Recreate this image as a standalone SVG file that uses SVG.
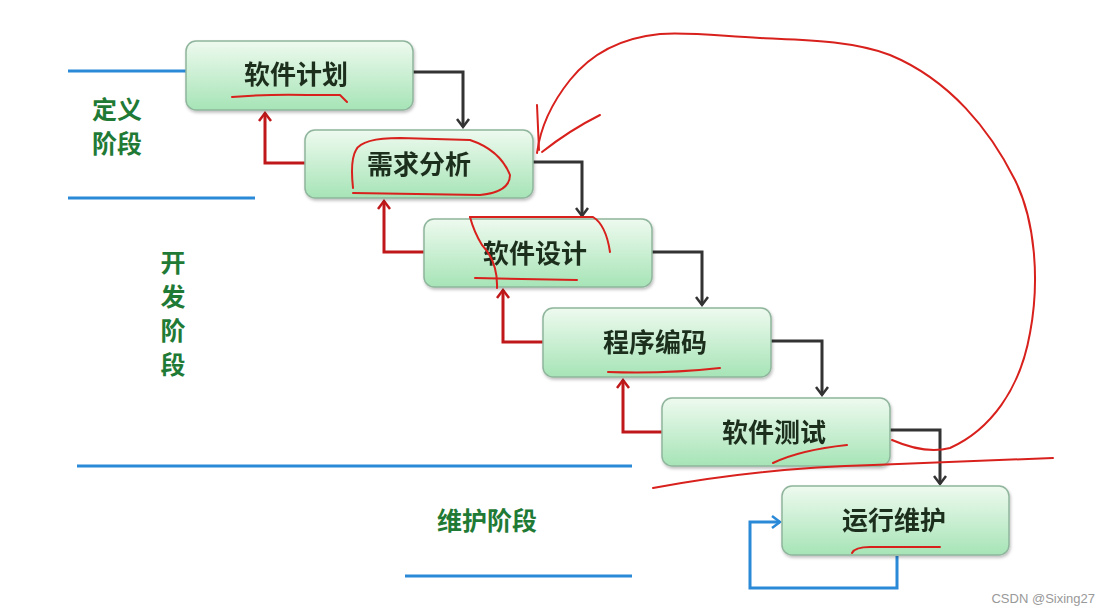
<svg xmlns="http://www.w3.org/2000/svg" width="1109" height="615" viewBox="0 0 1109 615">
<style>
.box{fill:url(#g);stroke:#8fb59c;stroke-width:1.5}
.lbl{font-family:"Noto Sans CJK SC","Noto Sans",sans-serif;font-weight:bold;font-size:26px;fill:#1e2e1e;text-anchor:middle}
.ph{font-family:"Noto Sans CJK SC","Noto Sans",sans-serif;font-weight:bold;font-size:25px;fill:#1f7a35}
.blue{fill:none;stroke:#2a8ad8;stroke-width:3}
.ink{fill:none;stroke:#d8201c;stroke-width:2;stroke-linecap:round;stroke-linejoin:round}
.bk{fill:none;stroke:#333;stroke-width:3}
.bh{fill:none;stroke:#333;stroke-width:2.5}
.rd{fill:none;stroke:#c0181a;stroke-width:3}
.rh{fill:none;stroke:#c0181a;stroke-width:2.5}
</style>
<defs>
<linearGradient id="g" x1="0" y1="0" x2="0" y2="1">
<stop offset="0" stop-color="#eefaef"/>
<stop offset="1" stop-color="#a6e4b6"/>
</linearGradient>
<filter id="sh" x="-10%" y="-10%" width="120%" height="130%">
<feDropShadow dx="1" dy="2" stdDeviation="1.5" flood-color="#000" flood-opacity="0.25"/>
</filter>
</defs>
<rect width="1109" height="615" fill="#fff"/>

<g id="phase-lines">
<line class="blue" x1="68" y1="71" x2="186" y2="71"/>
<line class="blue" x1="68" y1="198" x2="255" y2="198"/>
<line class="blue" x1="77" y1="466" x2="632" y2="466"/>
<line class="blue" x1="405" y1="576" x2="632" y2="576"/>
</g>

<g id="phase-labels">
<text class="ph"><tspan x="92" y="119">定义</tspan><tspan x="92" y="153">阶段</tspan></text>
<text class="ph" text-anchor="middle"><tspan x="173" y="272">开</tspan><tspan x="173" y="306">发</tspan><tspan x="173" y="340">阶</tspan><tspan x="173" y="374">段</tspan></text>
<text class="ph" x="437" y="530">维护阶段</text>
</g>

<g id="connectors">
<path class="bk" d="M413,72 H463 V127"/>
<path class="bh" d="M457,119 L463,127 L469,119"/>
<path class="bk" d="M533,162 H582 V216"/>
<path class="bh" d="M576,208 L582,216 L588,208"/>
<path class="bk" d="M652,252 H702 V305"/>
<path class="bh" d="M696,297 L702,305 L708,297"/>
<path class="bk" d="M771,341 H822 V395"/>
<path class="bh" d="M816,387 L822,395 L828,387"/>
<path class="bk" d="M890,430 H940 V484"/>
<path class="bh" d="M934,476 L940,484 L946,476"/>

<path class="rd" d="M305,163 H265 V113"/>
<path class="rh" d="M259,121 L265,113 L271,121"/>
<path class="rd" d="M424,252 H384 V201"/>
<path class="rh" d="M378,209 L384,201 L390,209"/>
<path class="rd" d="M543,342 H503 V290"/>
<path class="rh" d="M497,298 L503,290 L509,298"/>
<path class="rd" d="M662,432 H623 V380"/>
<path class="rh" d="M617,388 L623,380 L629,388"/>

<path d="M897,556 V588 H750 V522 H780" fill="none" stroke="#2a8ad8" stroke-width="3"/>
<path d="M772,516 L780,522 L772,528" fill="none" stroke="#2a8ad8" stroke-width="2.5"/>
</g>

<g id="n1" filter="url(#sh)">
<rect class="box" x="186" y="41" width="227" height="69" rx="10"/>
<text class="lbl" x="296" y="84">软件计划</text>
</g>
<g id="n2" filter="url(#sh)">
<rect class="box" x="305" y="130" width="228" height="68" rx="10"/>
<text class="lbl" x="419" y="174">需求分析</text>
</g>
<g id="n3" filter="url(#sh)">
<rect class="box" x="424" y="219" width="228" height="68" rx="10"/>
<text class="lbl" x="535" y="263">软件设计</text>
</g>
<g id="n4" filter="url(#sh)">
<rect class="box" x="543" y="308" width="228" height="69" rx="10"/>
<text class="lbl" x="655" y="352">程序编码</text>
</g>
<g id="n5" filter="url(#sh)">
<rect class="box" x="662" y="398" width="228" height="68" rx="10"/>
<text class="lbl" x="774" y="442">软件测试</text>
</g>
<g id="n6" filter="url(#sh)">
<rect class="box" x="782" y="486" width="227" height="69" rx="10"/>
<text class="lbl" x="894" y="530">运行维护</text>
</g>

<g id="annotations">
<path class="ink" d="M232,97 Q270,94 307,95 L340,95 L347,102"/>
<path class="ink" d="M353,188 Q350,160 356,150 Q362,138 400,138 L470,140 Q500,150 510,175 Q510,192 480,195 L353,193"/>
<path class="ink" d="M470,217 L593,217 Q606,225 610,252"/>
<path class="ink" d="M470,217 Q474,232 482,245 Q498,262 497,288"/>
<path class="ink" d="M475,278 L577,280"/>
<path class="ink" d="M608,372 Q665,374 720,368"/>
<path class="ink" d="M773,463 Q800,450 847,445"/>
<path class="ink" d="M852,553 Q855,547 870,547 L940,547"/>
<path class="ink" d="M653,488 Q760,468 873,465 Q960,462 1053,458"/>
<path class="ink" d="M892,440 C915,450 935,452 950,448 C990,430 1020,390 1030,333 C1040,280 1035,220 1015,180 C990,130 950,80 890,55 C850,40 800,40 760,38 C720,36 690,32 660,34 C620,38 590,55 570,80 C550,105 540,130 537,153"/>
<path class="ink" d="M537,105 L539,150"/>
<path class="ink" d="M600,115 Q570,130 542,152"/>
</g>

<text x="1095" y="603" font-family="Liberation Sans,Arial,sans-serif" font-size="13" fill="#999" text-anchor="end">CSDN @Sixing27</text>
</svg>
